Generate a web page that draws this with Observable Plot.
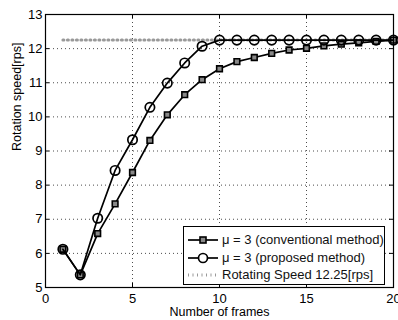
<!DOCTYPE html>
<html><head><meta charset="utf-8">
<script src="https://cdn.jsdelivr.net/npm/d3@7"></script>
<script src="https://cdn.jsdelivr.net/npm/@observablehq/plot@0.6"></script>
<style>
body{margin:0;background:#fff;font-family:"Liberation Sans",Arial,sans-serif;}
#wrap{position:relative;width:398px;height:320px;overflow:hidden;}
#legend{position:absolute;left:183px;top:226px;width:202px;height:59px;border:1.5px solid #000;background:#fff;box-sizing:border-box;font-size:13px;color:#111;}
#legend .row{position:absolute;left:0;height:17px;display:flex;align-items:center;white-space:nowrap;}
#legend svg{margin-left:3px;margin-right:3px;}
</style></head>
<body><div id="wrap"><div id="chart"></div>
<div id="legend">
 <div class="row" style="top:4px"><svg width="32" height="12"><line x1="1" y1="6" x2="31" y2="6" stroke="#000" stroke-width="1.7"/><rect x="13" y="3" width="6" height="6" fill="#888" stroke="#000" stroke-width="1.6"/></svg>μ = 3 (conventional method)</div>
 <div class="row" style="top:22px"><svg width="32" height="12"><line x1="1" y1="6" x2="31" y2="6" stroke="#000" stroke-width="1.7"/><circle cx="16" cy="6" r="4.5" fill="#fff" stroke="#000" stroke-width="1.7"/></svg>μ = 3 (proposed method)</div>
 <div class="row" style="top:39px"><svg width="32" height="12"><line x1="1" y1="6" x2="31" y2="6" stroke="#999" stroke-width="3" stroke-dasharray="1,3.5"/></svg>Rotating Speed 12.25[rps]</div>
</div></div>
<script>
const frames = [1,2,3,4,5,6,7,8,9,10,11,12,13,14,15,16,17,18,19,20];
const conventional = [6.12,5.37,6.58,7.45,8.37,9.31,10.06,10.65,11.09,11.41,11.62,11.74,11.86,11.96,12.01,12.08,12.13,12.17,12.21,12.25];
const proposed = [6.12,5.37,7.03,8.43,9.33,10.28,10.99,11.58,12.07,12.25,12.25,12.25,12.25,12.25,12.25,12.25,12.25,12.25,12.25,12.25];
const refSpeed = 12.25;
const refRange = [1,20];
const xTicks = [0,5,10,15,20];
const yTicks = [5,6,7,8,9,10,11,12,13];

const conv = frames.map((f,i)=>({x:f,y:conventional[i]}));
const prop = frames.map((f,i)=>({x:f,y:proposed[i]}));
const ref = refRange.map(x=>({x,y:refSpeed}));

const W=398,H=320,mL=45,mR=5,mT=14,mB=33;
const fw=W-mL-mR, fh=H-mT-mB, tk=4;

const chart = Plot.plot({
  width:W, height:H,
  marginLeft:mL, marginRight:mR, marginTop:mT, marginBottom:mB,
  style:{fontFamily:"Liberation Sans, Arial, sans-serif", fontSize:"13px", color:"#000", background:"#fff", overflow:"visible"},
  x:{type:"linear", domain:[0,20], label:null},
  y:{type:"linear", domain:[5,13], label:null},
  marks:[
    Plot.gridX(xTicks,{stroke:"#000", strokeOpacity:0.7, strokeDasharray:"1,3"}),
    Plot.gridY(yTicks,{stroke:"#000", strokeOpacity:0.7, strokeDasharray:"1,3"}),
    Plot.ruleX(xTicks,{x:d=>d, insetTop:fh-tk, stroke:"#000"}),
    Plot.ruleX(xTicks,{x:d=>d, insetBottom:fh-tk, stroke:"#000"}),
    Plot.ruleY(yTicks,{y:d=>d, insetRight:fw-tk, stroke:"#000"}),
    Plot.ruleY(yTicks,{y:d=>d, insetLeft:fw-tk, stroke:"#000"}),
    Plot.line(ref,{x:"x",y:"y",stroke:"#999",strokeWidth:3,strokeDasharray:"1,3.5"}),
    Plot.line(conv,{x:"x",y:"y",stroke:"#000",strokeWidth:1.7}),
    Plot.dot(conv,{x:"x",y:"y",symbol:"square",r:3.2,fill:"#888",stroke:"#000",strokeWidth:1.6}),
    Plot.line(prop,{x:"x",y:"y",stroke:"#000",strokeWidth:1.7}),
    Plot.dot(prop,{x:"x",y:"y",symbol:"circle",r:4.7,fill:"none",stroke:"#000",strokeWidth:1.7}),
    Plot.frame({stroke:"#000",strokeWidth:1.2}),
    Plot.axisX(xTicks,{tickSize:0, tickPadding:6, fontSize:13}),
    Plot.axisY(yTicks,{tickSize:0, tickPadding:3, fontSize:13}),
    Plot.text(["Number of frames"],{frameAnchor:"bottom", dy:28, fontSize:12.5, textAnchor:"middle", lineAnchor:"bottom"}),
    Plot.text(["Rotation speed[rps]"],{frameAnchor:"left", dx:-29, rotate:-90, fontSize:12.5, lineAnchor:"middle"})
  ]
});
document.getElementById("chart").appendChild(chart);
</script></body></html>
